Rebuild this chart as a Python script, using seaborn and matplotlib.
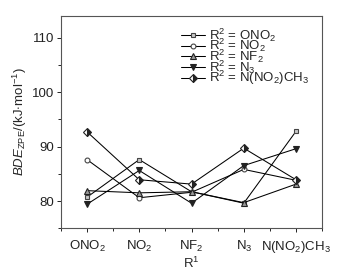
import matplotlib
matplotlib.use("Agg")
import matplotlib.pyplot as plt
import seaborn as sns
import pandas as pd
from matplotlib.ticker import MultipleLocator, FixedLocator

sns.set_theme(style="ticks")
plt.rcParams['font.family'] = ['Liberation Sans', 'DejaVu Sans']
plt.rcParams['mathtext.fontset'] = 'custom'
plt.rcParams['mathtext.rm'] = 'Liberation Sans'
plt.rcParams['mathtext.it'] = 'Liberation Sans:italic'
plt.rcParams['mathtext.bf'] = 'Liberation Sans:bold'

categories = [r"ONO$_2$", r"NO$_2$", r"NF$_2$", r"N$_3$", r"N(NO$_2$)CH$_3$"]
series_labels = [r"R$^2$ = ONO$_2$", r"R$^2$ = NO$_2$", r"R$^2$ = NF$_2$",
                 r"R$^2$ = N$_3$", r"R$^2$ = N(NO$_2$)CH$_3$"]
ono2 = [80.7, 87.6, 81.7, 79.6, 92.8]
no2 = [87.6, 80.6, 81.6, 85.8, 83.8]
nf2 = [81.9, 81.5, 81.7, 79.7, 83.1]
n3 = [79.4, 85.6, 79.6, 86.5, 89.6]
nno2ch3 = [92.7, 83.9, 83.1, 89.7, 83.9]

values = [ono2, no2, nf2, n3, nno2ch3]
rows = []
for lab, vals in zip(series_labels, values):
    for i, v in enumerate(vals):
        rows.append({"x": i, "y": v, "series": lab})
df = pd.DataFrame(rows)

FS = 9.5
marker_list = ['s', 'o', '^', 'v', 'D']
fig = plt.figure(figsize=(3.42, 2.76), dpi=100)
ax = fig.add_axes([0.178, 0.173, 0.764, 0.770])
sns.lineplot(data=df, x="x", y="y", hue="series", style="series",
             palette=["black"] * 5, markers=dict(zip(series_labels, marker_list)),
             dashes=False, linewidth=0.8, markersize=4, ax=ax, legend=False)

styles = [
    dict(marker='s', mfc='#c8c8c8', mec='#444444', ms=3.5),
    dict(marker='o', mfc='white', mec='#444444', ms=3.5),
    dict(marker='^', mfc='#999999', mec='#222222', ms=4.5),
    dict(marker='v', mfc='#222222', mec='#222222', ms=4.5),
    dict(marker='D', mfc='#222222', mec='#222222', ms=3.8, fillstyle='right', markerfacecoloralt='white'),
]
lines = ax.get_lines()
for ln, st in zip(lines, styles):
    ln.set_color('black')
    ln.set_linewidth(0.75)
    ln.set_marker(st['marker'])
    ln.set_markersize(st['ms'])
    ln.set_markeredgecolor(st['mec'])
    ln.set_markeredgewidth(0.8)
    if 'fillstyle' in st:
        ln.set_fillstyle(st['fillstyle'])
        ln.set_markerfacecoloralt(st['markerfacecoloralt'])
    ln.set_markerfacecolor(st['mfc'])

ax.set_xlim(-0.5, 4.5)
ax.set_ylim(75, 114)
ax.xaxis.set_major_locator(FixedLocator(range(5)))
ax.set_xticklabels(categories)
ax.xaxis.set_minor_locator(FixedLocator([-0.5, 0.5, 1.5, 2.5, 3.5, 4.5]))
ax.yaxis.set_minor_locator(MultipleLocator(5))
ax.set_yticks([80, 90, 100, 110])
ax.tick_params(axis='both', which='major', direction='out', length=3, width=0.7,
               labelsize=FS, colors='#222222', pad=2)
ax.tick_params(axis='both', which='minor', direction='out', length=2, width=0.7)
ax.tick_params(axis='x', which='major', pad=5)
for sp in ax.spines.values():
    sp.set_visible(True)
    sp.set_linewidth(0.8)
    sp.set_color('#555555')

ax.set_xlabel(r"R$^1$", fontsize=FS, labelpad=0)
ax.set_ylabel(r"$\mathit{BDE}_{\mathrm{ZPE}}$/(kJ$\cdot$mol$^{-1}$)", fontsize=FS, labelpad=2)

handles = []
for lab, st in zip(series_labels, styles):
    kw = dict(color='black', lw=0.75, marker=st['marker'], ms=st['ms'],
              mfc=st['mfc'], mec=st['mec'], mew=0.8)
    if 'fillstyle' in st:
        kw['fillstyle'] = st['fillstyle']
        kw['markerfacecoloralt'] = st['markerfacecoloralt']
    h, = ax.plot([], [], label=lab, **kw)
    handles.append(h)
ax.legend(handles=handles, loc='upper left', bbox_to_anchor=(0.44, 0.975),
          frameon=False, fontsize=FS, labelspacing=-0.5, handlelength=1.8,
          handletextpad=0.3, borderaxespad=0)

fig.savefig("out.png", dpi=100)
